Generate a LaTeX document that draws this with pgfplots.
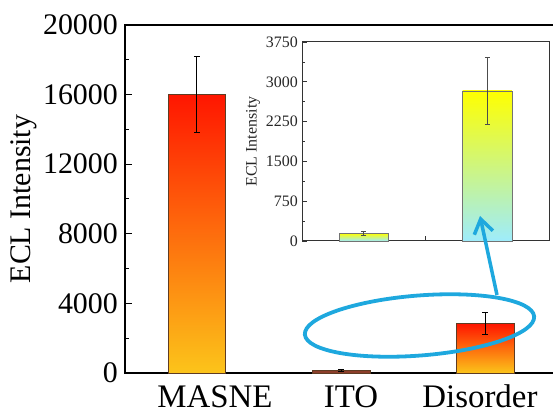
\documentclass[border=0pt]{standalone}
\usepackage{pgfplots}
\pgfplotsset{compat=1.18}
\usepackage{pgfplotstable}
\usepackage{fontspec}
\setmainfont{Liberation Serif}
\usetikzlibrary{arrows.meta}

\definecolor{barred}{RGB}{255,22,0}
\definecolor{bargold}{RGB}{252,196,26}
\definecolor{baredge}{RGB}{95,60,35}
\definecolor{itobrown}{RGB}{140,62,42}
\definecolor{insetyellow}{RGB}{255,255,0}
\definecolor{insetcyan}{RGB}{158,236,252}
\definecolor{markblue}{RGB}{30,168,222}

% main panel: x = category index, y = ECL intensity, err = half-width of error bar
\pgfplotstableread{
x y err
0 16000 2200
}\masne
\pgfplotstableread{
x y err
1 140 40
}\ito
\pgfplotstableread{
x y err
2 2830 625
}\disorder

% inset panel (ITO at 1, Disorder at 2)
\pgfplotstableread{
x y err
1 145 40
}\itoin
\pgfplotstableread{
x y err
2 2830 625
}\disorderin

% error bars alone: a single point gives no line and no marker
\pgfplotsset{
  mainerr/.style={mark=none, black, forget plot,
    error bars/.cd, y dir=both, y explicit,
    error bar style={line width=1bp, black},
    error mark options={rotate=90, mark size=3bp, line width=1bp, black}},
  inseterr/.style={mark=none, black!70, forget plot,
    error bars/.cd, y dir=both, y explicit,
    error bar style={line width=0.7bp, black!70},
    error mark options={rotate=90, mark size=2.5bp, line width=0.7bp, black!70}},
}

\begin{document}
\begin{tikzpicture}
\begin{axis}[
  name=main, at={(0,0)}, anchor=south west,
  scale only axis, width=432bp, height=348bp,
  xmin=-0.5, xmax=2.5, ymin=0, ymax=20000,
  xtick={0.125,1.07,1.965},
  xticklabels={MASNE,ITO,Disorder},
  ytick={0,4000,...,20000}, minor y tick num=1,
  scaled y ticks=false,
  tick align=inside, ytick pos=left,
  major tick length=7bp, minor tick length=4bp,
  xtick style={draw=none},
  every tick/.style={black, line width=1bp},
  axis line style={black, line width=1.4bp},
  /pgf/number format/assume math mode=true,
  /pgf/number format/1000 sep={},
  yticklabel style={font=\fontsize{30}{36}\selectfont, inner sep=0pt, xshift=-7bp},
  xticklabel style={font=\fontsize{33}{39}\selectfont, inner sep=0pt, anchor=base, yshift=-34bp},
  ylabel={ECL Intensity},
  every axis y label/.style={at={(axis description cs:-0.234,0.5)}, rotate=90, anchor=center,
    font=\fontsize{30}{36}\selectfont},
  clip=false,
]
\addplot[ybar, bar shift=0pt, bar width=0.4, draw=baredge, line width=0.6bp,
  top color=barred, bottom color=bargold] table[x=x,y=y] {\masne};
\addplot[ybar, bar shift=0pt, bar width=0.4, draw=baredge, line width=0.6bp,
  fill=itobrown] table[x=x,y=y] {\ito};
\addplot[ybar, bar shift=0pt, bar width=0.4, draw=baredge, line width=0.6bp,
  top color=barred, bottom color=bargold] table[x=x,y=y] {\disorder};
% error bars
\addplot[mainerr] table[x=x, y=y, y error=err] {\masne};
\addplot[mainerr] table[x=x, y=y, y error=err] {\ito};
\addplot[mainerr] table[x=x, y=y, y error=err] {\disorder};
\end{axis}

\begin{axis}[
  name=inset, at={(177bp,132bp)}, anchor=south west,
  scale only axis, width=247bp, height=199bp,
  xmin=0.5, xmax=2.5, ymin=0, ymax=3750,
  xtick={1.5}, xticklabels={},
  ytick={0,750,...,3750}, minor y tick num=1,
  scaled y ticks=false,
  tick align=inside, ytick pos=left, xtick pos=bottom,
  major tick length=5bp, minor tick length=3bp,
  every tick/.style={black!80, line width=0.7bp},
  axis line style={black!80, line width=1bp},
  /pgf/number format/assume math mode=true,
  /pgf/number format/1000 sep={},
  yticklabel style={font=\fontsize{16}{19}\selectfont, text=black!85, inner sep=0pt, xshift=-4bp},
  ylabel={ECL Intensity},
  every axis y label/.style={at={(axis description cs:-0.198,0.5)}, rotate=90, anchor=center,
    font=\fontsize{16}{19}\selectfont, text=black!85},
  clip=false,
]
\addplot[ybar, bar shift=0pt, bar width=0.4, draw=black!55, line width=0.6bp,
  top color=insetyellow, bottom color=insetcyan] table[x=x,y=y] {\itoin};
\addplot[ybar, bar shift=0pt, bar width=0.4, draw=black!55, line width=0.6bp,
  top color=insetyellow, bottom color=insetcyan] table[x=x,y=y] {\disorderin};
\addplot[inseterr] table[x=x, y=y, y error=err] {\itoin};
\addplot[inseterr] table[x=x, y=y, y error=err] {\disorderin};
\end{axis}

% highlight around the small bars and the pointer to the inset
\draw[markblue, line width=3.8bp, rotate around={4.5:(294.5bp,47.5bp)}]
  (294.5bp,47.5bp) ellipse [x radius=115bp, y radius=30bp];
\draw[markblue, line width=3.5bp, -{Straight Barb[length=14bp, width=19bp]}]
  (372bp,78bp) -- (355bp,157bp);

\pgfresetboundingbox
\path[use as bounding box] (-125bp,-41bp) rectangle (428bp,373bp);
\end{tikzpicture}
\end{document}
